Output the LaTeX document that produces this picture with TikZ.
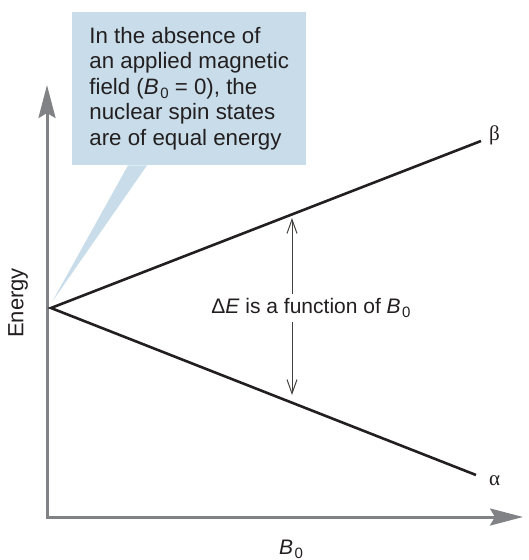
\documentclass[tikz,border=0pt]{standalone}
\usepackage{fontspec}
\setmainfont{Liberation Sans}
\newfontfamily\greekfont{Liberation Serif}
\usetikzlibrary{arrows.meta,positioning}
\definecolor{axisGray}{HTML}{808285}
\definecolor{calloutBlue}{HTML}{C8DDE9}
\definecolor{lineBlack}{HTML}{231F20}
\newcommand{\Bnought}{\textit{B}\kern1.5pt\raisebox{-0.35ex}{\fontsize{15}{15}\selectfont 0}}

\begin{document}
\begin{tikzpicture}[
  x=1pt, y=-1pt,
  font=\fontsize{21}{25.5}\selectfont, text=lineBlack,
  axis/.style={draw=axisGray, line width=3pt, line join=miter, {Stealth[length=33pt,width=17pt,inset=5pt]}-{Stealth[length=33pt,width=17pt,inset=5pt]}},
  level/.style={draw=lineBlack, line width=2.6pt, line join=miter},
  gap/.style={draw=lineBlack!85, line width=1pt, {Straight Barb[length=14pt,width=10pt]}-{Straight Barb[length=14pt,width=10pt]}},
  callout/.style={fill=calloutBlue, align=left, inner xsep=16pt, minimum width=234pt, minimum height=153pt, anchor=north west, font=\fontsize{22.3}{25.5}\selectfont},
  lbl/.style={inner sep=0pt},
]
\useasboundingbox (0,0) rectangle (528,560);

% axes
\coordinate (O) at (47,517);
\coordinate (ytip) at (47,85);
\coordinate (xtip) at (523,517);
\draw[axis] (ytip) -- (O) -- (xtip);
\node[lbl, rotate=90, font=\fontsize{22}{22}\selectfont] (energy) at (18,303) {Energy};
\node[lbl] (bfield) at (291,549) {\Bnought};

% spin levels
\coordinate (zero) at (51,308);
\coordinate (betaEnd) at (481,141);
\coordinate (alphaEnd) at (476,475);
\draw[level] (betaEnd) -- (zero) -- (alphaEnd);
\node[lbl, anchor=west, font=\fontsize{21}{21}\greekfont] (beta) at ([xshift=8pt,yshift=6pt]betaEnd) {β};
\node[lbl, anchor=west, font=\fontsize{21}{21}\greekfont] (alpha) at ([xshift=13pt,yshift=-6pt]alphaEnd) {α};

% energy gap
\coordinate (gapTop) at (292,218);
\coordinate (gapBot) at (292,395);
\draw[gap] (gapTop) -- (gapBot);
\node[fill=white, inner xsep=2pt, inner ysep=4pt] (deltaE) at (311,308) {Δ\textit{E} is a function of \Bnought};

% callout
\node[callout] (note) at (72,12) {In the absence of\\an applied magnetic\\field (\Bnought{} = 0), the\\nuclear spin states\\are of equal energy};
\coordinate (noteTip) at (52,302);
\fill[calloutBlue] ([xshift=56pt]note.south west) -- ([xshift=75pt]note.south west) -- (noteTip) -- cycle;
\end{tikzpicture}
\end{document}
